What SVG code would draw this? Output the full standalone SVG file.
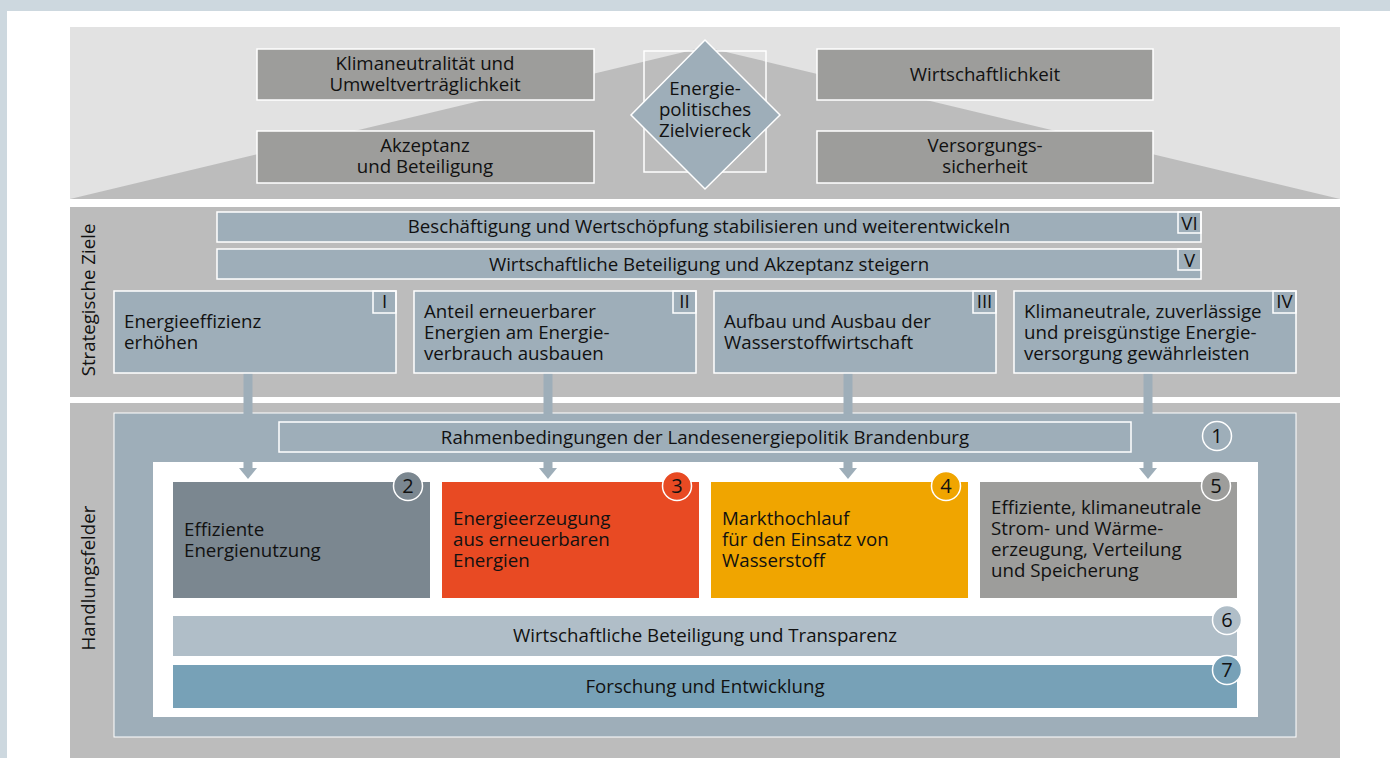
<svg xmlns="http://www.w3.org/2000/svg" width="1390" height="758" viewBox="0 0 1390 758">
<style>
text{font-family:"Open Sans","Noto Sans","Liberation Sans",sans-serif;fill:#111;font-size:18.7px}
.c{text-anchor:middle}
.n{font-size:20px}
.top{fill:#9d9d9b;stroke:#fff;stroke-width:1.5}
.sb{fill:#9eaeb9;stroke:#fff;stroke-width:1.5}
.tag{fill:none;stroke:#fff;stroke-width:1.5}
.circ{stroke:#fff;stroke-width:1.5}
.arr{stroke:#9eaeb9;stroke-width:9;fill:none}
.ah{fill:#9eaeb9}
</style>
<rect x="0" y="0" width="1390" height="758" fill="#cdd8df"/>
<rect x="7" y="11" width="1383" height="747" fill="#fff"/>

<!-- Section 1: house -->
<g id="house">
<rect x="70" y="27" width="1270" height="172" fill="#e2e2e2"/>
<polygon points="70,199 705,47 1340,199" fill="#bcbcbc"/>
<rect x="644" y="51" width="122" height="121" fill="none" stroke="#fff" stroke-width="1.5"/>
</g>
<g id="ziel-klima"><rect class="top" x="257" y="49" width="337" height="51"/><text class="c" x="425" y="70">Klimaneutralität und<tspan x="425" dy="21">Umweltverträglichkeit</tspan></text></g>
<g id="ziel-akzeptanz"><rect class="top" x="257" y="131" width="337" height="52"/><text class="c" x="425" y="152">Akzeptanz<tspan x="425" dy="21">und Beteiligung</tspan></text></g>
<g id="ziel-wirtschaft"><rect class="top" x="817" y="49" width="336" height="51"/><text class="c" x="985" y="81">Wirtschaftlichkeit</text></g>
<g id="ziel-versorgung"><rect class="top" x="817" y="131" width="336" height="52"/><text class="c" x="985" y="152">Versorgungs-<tspan x="985" dy="21">sicherheit</tspan></text></g>
<g id="zielviereck"><polygon points="705,40 780,115 705,189 631,115" fill="#9eaeb9" stroke="#fff" stroke-width="1.5"/><text class="c" x="705" y="95">Energie-<tspan x="705" dy="21">politisches</tspan><tspan x="705" dy="21">Zielviereck</tspan></text></g>

<!-- Section 2 -->
<g id="strategische-ziele">
<rect x="70" y="207" width="1270" height="190" fill="#bcbcbc"/>
<text class="c" transform="translate(95,300) rotate(-90)">Strategische Ziele</text>
</g>

<!-- Section 3 -->
<g id="handlungsfelder">
<rect x="70" y="403" width="1270" height="355" fill="#bcbcbc"/>
<text class="c" transform="translate(95,578) rotate(-90)">Handlungsfelder</text>
<rect x="114" y="413" width="1182" height="324" fill="#9eaeb9" stroke="#fff" stroke-width="1"/>
<rect x="153" y="462" width="1105" height="255" fill="#fff"/>
</g>

<!-- Connectors -->
<g id="connectors">
<line class="arr" x1="248" y1="373" x2="248" y2="469"/>
<line class="arr" x1="548" y1="373" x2="548" y2="469"/>
<line class="arr" x1="848" y1="373" x2="848" y2="469"/>
<line class="arr" x1="1148" y1="373" x2="1148" y2="469"/>
<polygon class="ah" points="239,468 257,468 248,479"/>
<polygon class="ah" points="539,468 557,468 548,479"/>
<polygon class="ah" points="839,468 857,468 848,479"/>
<polygon class="ah" points="1139,468 1157,468 1148,479"/>
</g>

<g id="ziel-VI"><rect class="sb" x="217" y="212" width="984" height="30"/><rect class="tag" x="1178" y="212" width="23" height="21"/><text class="c" x="709" y="233">Beschäftigung und Wertschöpfung stabilisieren und weiterentwickeln</text><text class="c" x="1189.5" y="230">VI</text></g>
<g id="ziel-V"><rect class="sb" x="217" y="249" width="984" height="30"/><rect class="tag" x="1178" y="249" width="23" height="21"/><text class="c" x="709" y="271">Wirtschaftliche Beteiligung und Akzeptanz steigern</text><text class="c" x="1189.5" y="267">V</text></g>
<g id="ziel-I"><rect class="sb" x="114" y="291" width="282" height="82"/><rect class="tag" x="373" y="291" width="23" height="22"/><text x="124" y="328">Energieeffizienz<tspan x="124" dy="21">erhöhen</tspan></text><text class="c" x="384.5" y="308">I</text></g>
<g id="ziel-II"><rect class="sb" x="414" y="291" width="282" height="82"/><rect class="tag" x="673" y="291" width="23" height="22"/><text x="424" y="318">Anteil erneuerbarer<tspan x="424" dy="21">Energien am Energie-</tspan><tspan x="424" dy="21">verbrauch ausbauen</tspan></text><text class="c" x="684.5" y="308">II</text></g>
<g id="ziel-III"><rect class="sb" x="714" y="291" width="282" height="82"/><rect class="tag" x="973" y="291" width="23" height="22"/><text x="724" y="328">Aufbau und Ausbau der<tspan x="724" dy="21">Wasserstoffwirtschaft</tspan></text><text class="c" x="984.5" y="308">III</text></g>
<g id="ziel-IV"><rect class="sb" x="1014" y="291" width="282" height="82"/><rect class="tag" x="1273" y="291" width="23" height="22"/><text x="1024" y="318">Klimaneutrale, zuverlässige<tspan x="1024" dy="21">und preisgünstige Energie-</tspan><tspan x="1024" dy="21">versorgung gewährleisten</tspan></text><text class="c" x="1284.5" y="308">IV</text></g>

<g id="feld-1"><rect class="sb" x="279" y="422" width="852" height="30"/><text class="c" x="705" y="444">Rahmenbedingungen der Landesenergiepolitik Brandenburg</text><circle class="circ" cx="1217" cy="436" r="14.5" fill="#9eaeb9"/><text class="c n" x="1217" y="443">1</text></g>
<g id="feld-2"><rect x="173" y="482" width="257" height="116" fill="#7b8790"/><circle class="circ" cx="408" cy="486" r="14.5" fill="#7b8790"/><text class="c n" x="408" y="493">2</text><text x="184" y="536">Effiziente<tspan x="184" dy="21">Energienutzung</tspan></text></g>
<g id="feld-3"><rect x="442" y="482" width="257" height="116" fill="#e84a23"/><circle class="circ" cx="677" cy="486" r="14.5" fill="#e84a23"/><text class="c n" x="677" y="493">3</text><text x="453" y="525">Energieerzeugung<tspan x="453" dy="21">aus erneuerbaren</tspan><tspan x="453" dy="21">Energien</tspan></text></g>
<g id="feld-4"><rect x="711" y="482" width="257" height="116" fill="#f0a500"/><circle class="circ" cx="946" cy="486" r="14.5" fill="#f0a500"/><text class="c n" x="946" y="493">4</text><text x="722" y="525">Markthochlauf<tspan x="722" dy="21">für den Einsatz von</tspan><tspan x="722" dy="21">Wasserstoff</tspan></text></g>
<g id="feld-5"><rect x="980" y="482" width="257" height="116" fill="#9d9d9b"/><circle class="circ" cx="1216" cy="486" r="14.5" fill="#9d9d9b"/><text class="c n" x="1216" y="493">5</text><text x="991" y="514">Effiziente, klimaneutrale<tspan x="991" dy="21">Strom- und Wärme-</tspan><tspan x="991" dy="21">erzeugung, Verteilung</tspan><tspan x="991" dy="21">und Speicherung</tspan></text></g>
<g id="feld-6"><rect x="173" y="616" width="1064" height="40" fill="#b0bec8"/><circle class="circ" cx="1227" cy="620" r="14.5" fill="#b0bec8"/><text class="c n" x="1227" y="627">6</text><text class="c" x="705" y="642">Wirtschaftliche Beteiligung und Transparenz</text></g>
<g id="feld-7"><rect x="173" y="665" width="1064" height="43" fill="#77a1b7"/><circle class="circ" cx="1227" cy="670" r="14.5" fill="#77a1b7"/><text class="c n" x="1227" y="677">7</text><text class="c" x="705" y="693">Forschung und Entwicklung</text></g>
</svg>
